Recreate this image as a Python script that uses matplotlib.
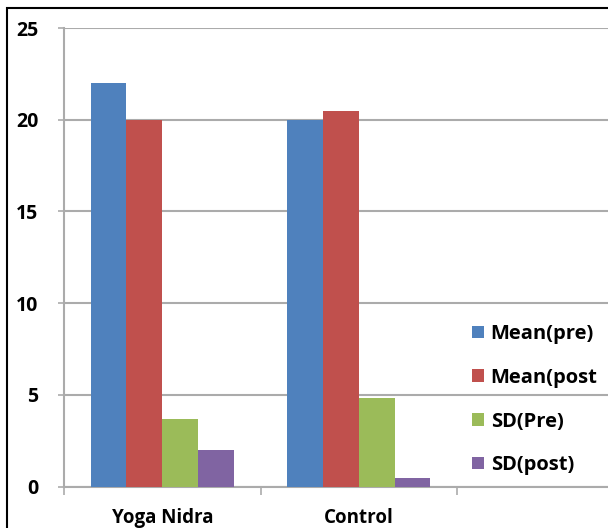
import matplotlib
matplotlib.use("Agg")
import matplotlib.pyplot as plt
from matplotlib.patches import Rectangle
import numpy as np

plt.rcParams['font.family'] = ['Open Sans', 'DejaVu Sans']

groups = ["Yoga Nidra", "Control"]
series = ["Mean(pre)", "Mean(post", "SD(Pre)", "SD(post)"]
values = {
    "Mean(pre)": [22.0, 20.0],
    "Mean(post": [20.0, 20.5],
    "SD(Pre)": [3.7, 4.85],
    "SD(post)": [2.0, 0.45],
}
colors = ["#4F81BD", "#C0504D", "#9BBB59", "#8064A2"]
y_ticks = [0, 5, 10, 15, 20, 25]

W, H = 608, 528
fig = plt.figure(figsize=(W / 100, H / 100), dpi=100)
fig.patch.set_facecolor("white")

ax_left, ax_right = 64, 608
ax_top, ax_bottom = 28, 486.7
ax = fig.add_axes([ax_left / W, 1 - ax_bottom / H,
                   (ax_right - ax_left) / W, (ax_bottom - ax_top) / H])

cat_px = 196.5
x_max = -0.5 + (ax_right - ax_left) / cat_px

bar_w = 0.182
x = np.arange(len(groups))
offsets = (np.arange(len(series)) - (len(series) - 1) / 2) * bar_w
handles = []
for i, name in enumerate(series):
    h = ax.bar(x + offsets[i], values[name], width=bar_w, color=colors[i],
               edgecolor="none", label=name, zorder=3)
    handles.append(h)

grid_color = "#ABABAB"
ax.set_ylim(0, 25)
ax.set_xlim(-0.5, x_max)
ax.set_yticks(y_ticks)
ax.set_yticklabels([str(v) for v in y_ticks], fontsize=14, fontweight="bold")
ax.yaxis.grid(True, color=grid_color, linewidth=1.5, zorder=0)
ax.set_axisbelow(True)

ax.set_xticks(x)
ax.set_xticklabels(groups, fontsize=13.5, fontweight="bold")
ax.set_xticks([-0.5, 0.5, 1.5], minor=True)
ax.tick_params(axis="x", which="major", length=0, pad=15)
ax.tick_params(axis="x", which="minor", length=5.5, width=1.2, color=grid_color)
ax.tick_params(axis="y", length=4.5, width=1.2, color=grid_color, pad=14)

for s in ["top", "right"]:
    ax.spines[s].set_visible(False)
for s in ["left", "bottom"]:
    ax.spines[s].set_color(grid_color)
    ax.spines[s].set_linewidth(1.5)

leg = ax.legend(handles=handles, labels=series, loc="upper left",
                bbox_to_anchor=(472 / W, 1 - 324 / H), bbox_transform=fig.transFigure,
                frameon=False, prop={"weight": "bold", "size": 14.5},
                handlelength=0.58, handleheight=0.58, handletextpad=0.35,
                labelspacing=1.18, borderaxespad=0, borderpad=0)

# outer frame around the chart area
fig.add_artist(Rectangle((7 / W, -0.1), 1.2, 1 - 8 / H + 0.1,
                         transform=fig.transFigure, fill=False,
                         edgecolor="black", linewidth=1.5, clip_on=False))

fig.savefig("out.png", dpi=100)
